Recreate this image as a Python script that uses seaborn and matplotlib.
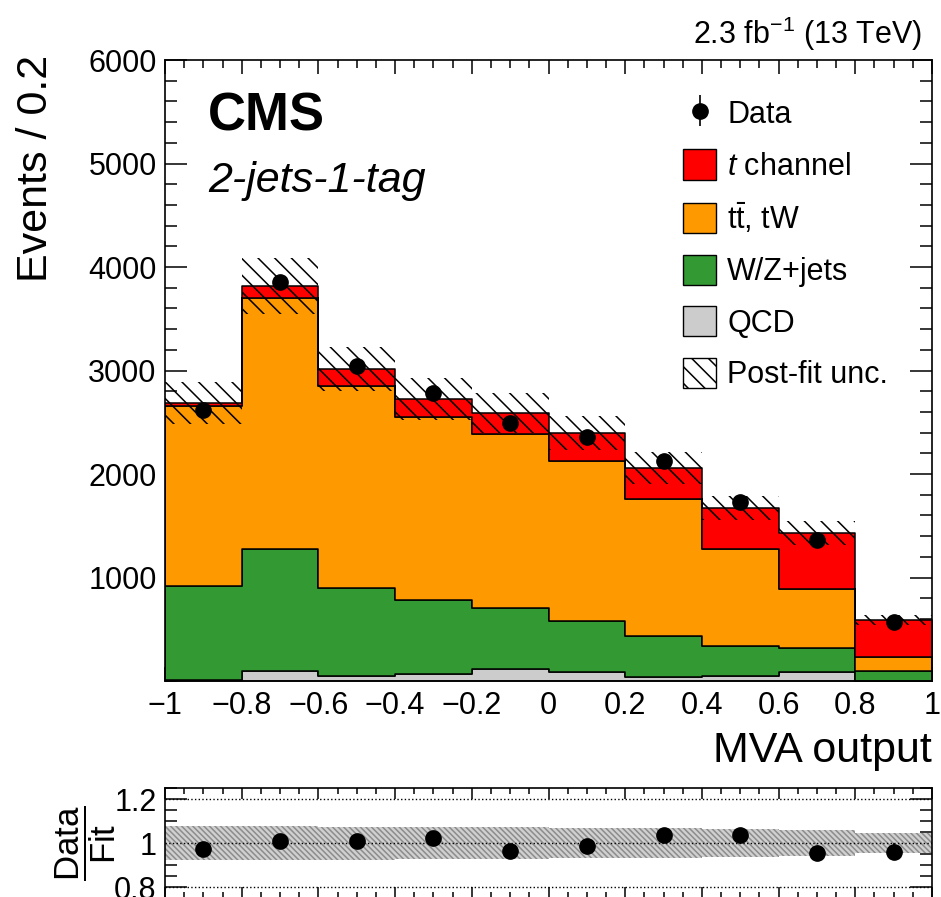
import numpy as np
import pandas as pd
import matplotlib
matplotlib.use('Agg')
import matplotlib.pyplot as plt
import seaborn as sns
from matplotlib.patches import Patch
from matplotlib.ticker import MultipleLocator

# --- дані ---
bin_edges = [-1.0, -0.8, -0.6, -0.4, -0.2, 0.0, 0.2, 0.4, 0.6, 0.8, 1.0]
bin_centers = [-0.9, -0.7, -0.5, -0.3, -0.1, 0.1, 0.3, 0.5, 0.7, 0.9]
x_tick_labels = ['\u22121', '\u22120.8', '\u22120.6', '\u22120.4', '\u22120.2', '0',
                 '0.2', '0.4', '0.6', '0.8', '1']

qcd = [10, 95, 48, 64, 116, 87, 39, 48, 87, 0]
wz_jets = [910, 1180, 850, 716, 589, 493, 396, 290, 232, 97]
ttbar_tw = [1737, 2425, 1952, 1770, 1681, 1546, 1323, 937, 570, 135]
t_channel = [29, 116, 164, 175, 203, 270, 300, 396, 541, 358]
data = [2615, 3855, 3040, 2782, 2497, 2362, 2130, 1731, 1364, 567]
postfit_unc = [200, 270, 210, 200, 192, 165, 155, 115, 115, 45]
ratio_unc = [0.077, 0.076, 0.075, 0.074, 0.073, 0.069, 0.067, 0.064, 0.059, 0.045]

processes = ['t channel', 'ttbar', 'wz', 'qcd']
colors = {'t channel': '#ff0000', 'ttbar': '#ff9900', 'wz': '#339933', 'qcd': '#cccccc'}

sns.set_style('ticks')
plt.rcParams['font.family'] = ['Liberation Sans', 'DejaVu Sans']
plt.rcParams['mathtext.fontset'] = 'custom'
plt.rcParams['mathtext.rm'] = 'Liberation Sans'
plt.rcParams['mathtext.it'] = 'Liberation Sans:italic'
plt.rcParams['mathtext.bf'] = 'Liberation Sans:bold'
plt.rcParams['hatch.linewidth'] = 1.1
plt.rcParams['axes.linewidth'] = 1.2
for key in ['text.color', 'axes.labelcolor', 'xtick.color', 'ytick.color', 'axes.edgecolor']:
    plt.rcParams[key] = 'black'

# таблиця для seaborn (стек)
df = pd.DataFrame({
    'x': bin_centers * 4,
    'w': t_channel + ttbar_tw + wz_jets + qcd,
    'proc': sum([[p] * len(bin_centers) for p in processes], []),
})

total = np.array(qcd) + np.array(wz_jets) + np.array(ttbar_tw) + np.array(t_channel)
data_arr = np.array(data)
unc = np.array(postfit_unc)

fig = plt.figure(figsize=(9.41, 8.97), dpi=100)
ax = fig.add_axes([165 / 941, 1 - 681 / 897, 767 / 941, 621 / 897])
rax = fig.add_axes([165 / 941, 1 - 898 / 897, 767 / 941, 110 / 897])

sns.histplot(data=df, x='x', weights='w', hue='proc', hue_order=processes,
             multiple='stack', bins=bin_edges, element='step', palette=colors,
             edgecolor='black', linewidth=1.1, alpha=1, legend=False, ax=ax)

# полоса невизначеності
ax.bar(bin_centers, 2 * unc, bottom=total - unc, width=0.2, fill=False,
       hatch='\\\\', edgecolor='black', linewidth=0, zorder=4)

data_eb = ax.errorbar(bin_centers, data_arr, yerr=np.sqrt(data_arr), fmt='o',
                      color='black', markersize=11, elinewidth=1.2, capsize=0, zorder=6)

ax.set_xlim(-1, 1)
ax.set_ylim(0, 6000)
ax.set_xlabel('')
ax.set_ylabel('')
ax.set_xticks(bin_edges)
ax.set_xticklabels(x_tick_labels)
ax.set_yticks([1000, 2000, 3000, 4000, 5000, 6000])
ax.xaxis.set_minor_locator(MultipleLocator(0.05))
ax.yaxis.set_minor_locator(MultipleLocator(200))
ax.tick_params(which='both', direction='in', top=True, right=True, labelsize=22, width=1.1, zorder=10)
ax.tick_params(axis='y', which='major', length=16, pad=6)
ax.tick_params(axis='y', which='minor', length=8.5)
ax.tick_params(axis='x', which='major', length=10, pad=7)
ax.tick_params(axis='x', which='minor', length=5.5)
for s in ax.spines.values():
    s.set_zorder(10)

ax.text(0.056, 0.8857, 'CMS', transform=ax.transAxes, fontsize=38,
        fontweight='bold', va='baseline', ha='left')
ax.text(0.056, 0.787, '2-jets-1-tag', transform=ax.transAxes, fontsize=31,
        style='italic', va='baseline', ha='left')

handles = [data_eb,
           Patch(facecolor=colors['t channel'], edgecolor='black', linewidth=1),
           Patch(facecolor=colors['ttbar'], edgecolor='black', linewidth=1),
           Patch(facecolor=colors['wz'], edgecolor='black', linewidth=1),
           Patch(facecolor=colors['qcd'], edgecolor='black', linewidth=1),
           Patch(facecolor='white', edgecolor='black', hatch='\\\\', linewidth=1)]
labels = ['Data', r'$t$ channel', r't$\bar{\mathrm{t}}$, tW', 'W/Z+jets', 'QCD', 'Post-fit unc.']
ax.legend(handles, labels, loc='upper left', bbox_to_anchor=(0.675, 0.939),
          frameon=False, fontsize=22, handlelength=1.1, handleheight=1.15,
          labelspacing=0.62, handletextpad=0.35, borderaxespad=0, borderpad=0)

fig.text(922 / 941, 1 - 44 / 897, r'2.3 fb$^{-1}$ (13 TeV)', ha='right', va='baseline', fontsize=22)
fig.text(36 / 941, 1 - 55 / 897, 'Events / 0.2', rotation=90, ha='center', va='top', fontsize=31)
fig.text(932 / 941, 1 - 762 / 897, 'MVA output', ha='right', va='baseline', fontsize=31)

# --- панель відношення ---
ratio = data_arr / total
ratio_err = np.sqrt(data_arr) / total
band = np.array(ratio_unc)
rax.fill_between(bin_edges, np.append(1 - band, 1 - band[-1]), np.append(1 + band, 1 + band[-1]),
                 step='post', facecolor='#d0d0d0', edgecolor='#8c8c8c', hatch='\\\\\\\\\\\\',
                 linewidth=0, zorder=1)
for yv in [0.8, 1.0, 1.2]:
    rax.axhline(yv, color='black', linestyle=':', linewidth=1, zorder=2)
rax.errorbar(bin_centers, ratio, yerr=ratio_err, fmt='o', color='black',
             markersize=11, elinewidth=1.2, capsize=0, zorder=5)
rax.set_xlim(-1, 1)
rax.set_ylim(0.75, 1.25)
rax.set_xticks(bin_edges)
rax.set_yticks([0.8, 1.0, 1.2])
rax.set_yticklabels(['0.8', '1', '1.2'])
rax.xaxis.set_minor_locator(MultipleLocator(0.05))
rax.yaxis.set_minor_locator(MultipleLocator(0.05))
rax.tick_params(which='both', direction='in', top=True, right=True, labelsize=22,
                width=1.1, labelbottom=False)
rax.tick_params(axis='y', which='major', length=16, pad=6)
rax.tick_params(axis='y', which='minor', length=8.5)
rax.tick_params(axis='x', which='major', length=8)
rax.tick_params(axis='x', which='minor', length=4.5)
fig.text(86 / 941, 1 - 843 / 897, r'$\dfrac{\mathrm{Data}}{\mathrm{Fit}}$', rotation=90,
         ha='center', va='center', fontsize=25)

fig.savefig('out.png', dpi=100)
